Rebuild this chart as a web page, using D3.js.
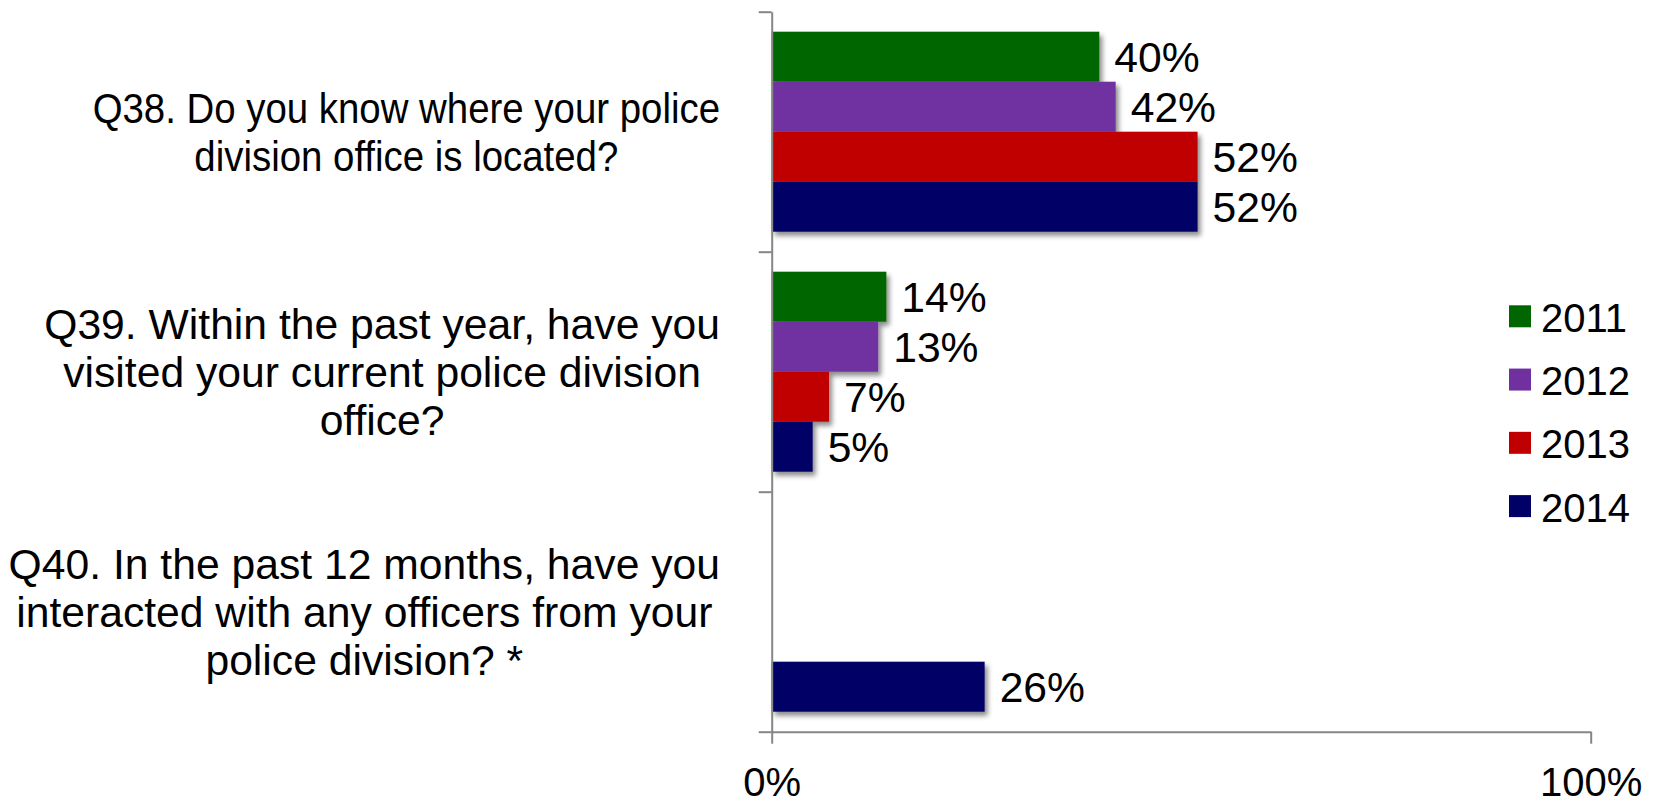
<!DOCTYPE html>
<html>
<head>
<meta charset="utf-8">
<script src="https://cdn.jsdelivr.net/npm/d3@7"></script>
<style>
  html, body { margin: 0; padding: 0; background: #ffffff; }
  svg { display: block; font-family: "Liberation Sans", Arial, sans-serif; }
</style>
</head>
<body>
<svg id="chart" width="1661" height="803"></svg>
<script>
// Survey questions (category axis), one line per array entry
const categories = ["Q38", "Q39", "Q40"];
const categoryLines = [
  ["Q38. Do you know where your police", "division office is located?"],
  ["Q39. Within the past year, have you", "visited your current police division", "office?"],
  ["Q40. In the past 12 months, have you", "interacted with any officers from your", "police division? *"]
];

// Survey years (series)
const years = ["2011", "2012", "2013", "2014"];
const yearColors = ["#006600", "#7030A0", "#C00000", "#000066"];

// Percent "yes" per question, one array per year (null = not asked)
const values2011 = [40, 14, null];
const values2012 = [42, 13, null];
const values2013 = [52, 7, null];
const values2014 = [52, 5, 26];

// Axis ticks
const xTickValues = [0, 100];
const xTickLabels = ["0%", "100%"];

const seriesValues = [values2011, values2012, values2013, values2014];

// Horizontal squeeze of each question label (the first one is set condensed)
const questionWidthScale = [0.9, 1, 1];

const svg = d3.select("#chart");
const plot = { left: 771.7, right: 1590.7, top: 11.7, bottom: 731.7 };
const axisColor = "#868686";

// Soft drop shadow under bars
const defs = svg.append("defs");
const f = defs.append("filter").attr("id", "barShadow")
  .attr("x", "-10%").attr("y", "-20%").attr("width", "130%").attr("height", "160%");
f.append("feDropShadow").attr("dx", 3).attr("dy", 4).attr("stdDeviation", 2.5)
  .attr("flood-color", "#000").attr("flood-opacity", 0.45);

const x = d3.scaleLinear().domain([0, 100]).range([plot.left, plot.right]);
const y = d3.scaleBand().domain(categories).range([plot.top, plot.bottom]).paddingInner(0).paddingOuter(0);
const yInner = d3.scaleBand().domain(years).range([0, y.bandwidth()]).paddingInner(0).paddingOuter(0.4);
const yEdge = d3.scaleLinear().domain([0, categories.length]).range([plot.top, plot.bottom]);

// Bars
const barData = [];
categories.forEach((c, ci) => {
  years.forEach((yr, si) => {
    const v = seriesValues[si][ci];
    if (v !== null) barData.push({ cat: c, year: yr, si, value: v });
  });
});

const bars = svg.append("g").attr("filter", "url(#barShadow)");
bars.selectAll("rect").data(barData).join("rect")
  .attr("x", x(0))
  .attr("y", d => y(d.cat) + yInner(d.year))
  .attr("width", d => x(d.value) - x(0))
  .attr("height", yInner.bandwidth())
  .attr("fill", d => yearColors[d.si]);

// Value labels
svg.append("g").selectAll("text").data(barData).join("text")
  .attr("x", d => x(d.value) + 15)
  .attr("y", d => y(d.cat) + yInner(d.year) + yInner.bandwidth() / 2)
  .attr("dy", "0.36em")
  .attr("font-size", 42.67)
  .attr("fill", "#000")
  .text(d => d.value + "%");

// Vertical category axis with ticks between categories
const yAxis = d3.axisLeft(yEdge)
  .tickValues(d3.range(categories.length + 1))
  .tickSize(13)
  .tickSizeOuter(0)
  .tickFormat("");
const gy = svg.append("g").attr("transform", `translate(${plot.left},0)`).call(yAxis);
gy.select(".domain").attr("stroke", axisColor).attr("stroke-width", 2);
gy.selectAll(".tick line").attr("stroke", axisColor).attr("stroke-width", 2);

// Horizontal value axis
const xAxis = d3.axisBottom(x)
  .tickValues(xTickValues)
  .tickSize(12)
  .tickSizeOuter(0)
  .tickFormat((d, i) => xTickLabels[i]);
const gx = svg.append("g").attr("transform", `translate(0,${plot.bottom})`).call(xAxis);
gx.select(".domain").attr("stroke", axisColor).attr("stroke-width", 2);
gx.selectAll(".tick line").attr("stroke", axisColor).attr("stroke-width", 2);
gx.selectAll(".tick text")
  .attr("y", 64.5).attr("dy", 0)
  .attr("font-size", 40)
  .attr("font-family", "'Liberation Sans', Arial, sans-serif")
  .attr("fill", "#000");

// Category labels: block right-aligned to the axis, lines centred within it
const labelRight = 720;
const lineHeight = 48;
categories.forEach((c, ci) => {
  const lines = categoryLines[ci];
  const sx = questionWidthScale[ci];
  const g = svg.append("g")
    .attr("transform", `translate(${labelRight},0) scale(${sx},1) translate(${-labelRight},0)`);
  const texts = g.selectAll("text").data(lines).join("text")
    .attr("font-size", 42.67)
    .attr("fill", "#000")
    .attr("text-anchor", "middle")
    .text(d => d);
  const maxW = d3.max(texts.nodes(), n => n.getComputedTextLength());
  const cx = labelRight - maxW / 2;
  const cy = y(c) + y.bandwidth() / 2;
  const first = cy - (lines.length - 1) * lineHeight / 2;
  texts.attr("x", cx)
    .attr("y", (d, i) => first + i * lineHeight)
    .attr("dy", "0.36em");
});

// Legend
const legend = svg.append("g");
const legendY = d3.scalePoint().domain(years).range([316.3, 506.1]);
const li = legend.selectAll("g").data(years).join("g")
  .attr("transform", d => `translate(1509,${legendY(d)})`);
li.append("rect")
  .attr("x", 0).attr("y", -11).attr("width", 22).attr("height", 22)
  .attr("fill", (d, i) => yearColors[i]);
li.append("text")
  .attr("x", 32).attr("y", 0).attr("dy", "0.39em")
  .attr("font-size", 40).attr("fill", "#000")
  .text(d => d);
</script>
</body>
</html>
